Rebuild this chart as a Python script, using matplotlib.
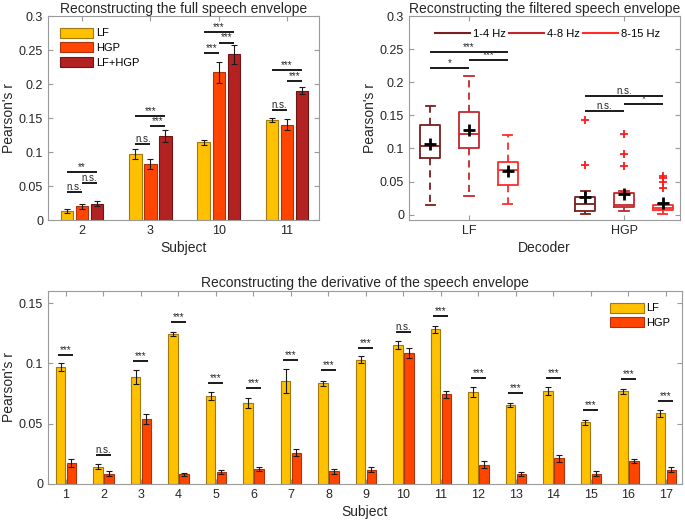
import matplotlib
matplotlib.use('Agg')
import matplotlib.pyplot as plt
import numpy as np
from matplotlib.lines import Line2D
from matplotlib.ticker import FuncFormatter

plt.rcParams['font.family'] = ['Liberation Sans', 'DejaVu Sans']

# ---------------- Panel A: full speech envelope ----------------
full_subjects = ['2', '3', '10', '11']
full_series = ['LF', 'HGP', 'LF+HGP']
full_lf = [0.013, 0.097, 0.114, 0.147]
full_lf_err = [0.003, 0.008, 0.004, 0.003]
full_hgp = [0.020, 0.082, 0.217, 0.140]
full_hgp_err = [0.004, 0.007, 0.015, 0.008]
full_comb = [0.024, 0.123, 0.244, 0.190]
full_comb_err = [0.004, 0.009, 0.014, 0.005]
# (subject index, series i, series j, height, label)
full_sig = [(0, 0, 1, 0.041, 'n.s.'), (0, 1, 2, 0.055, 'n.s.'), (0, 0, 2, 0.070, '**'),
            (1, 0, 1, 0.112, 'n.s.'), (1, 1, 2, 0.138, '***'), (1, 0, 2, 0.153, '***'),
            (2, 0, 1, 0.246, '***'), (2, 1, 2, 0.261, '***'), (2, 0, 2, 0.276, '***'),
            (3, 0, 1, 0.162, 'n.s.'), (3, 1, 2, 0.205, '***'), (3, 0, 2, 0.220, '***')]

# ---------------- Panel B: filtered speech envelope (box plots) ----------------
decoders = ['LF', 'HGP']
bands = ['1-4 Hz', '4-8 Hz', '8-15 Hz']
lf_whislo = [0.015, 0.028, 0.016]
lf_q1 = [0.086, 0.100, 0.045]
lf_med = [0.104, 0.122, 0.067]
lf_q3 = [0.135, 0.155, 0.080]
lf_whishi = [0.164, 0.210, 0.120]
lf_mean = [0.107, 0.128, 0.066]
lf_fliers = [[], [], []]
hgp_whislo = [0.001, 0.005, 0.001]
hgp_q1 = [0.005, 0.011, 0.007]
hgp_med = [0.016, 0.014, 0.010]
hgp_q3 = [0.027, 0.033, 0.015]
hgp_whishi = [0.036, 0.036, 0.016]
hgp_mean = [0.026, 0.032, 0.017]
hgp_fliers = [[0.075, 0.143], [0.074, 0.091, 0.122], [0.041, 0.050, 0.055, 0.059]]
# (decoder index, band i, band j, height, label)
filt_sig = [(0, 0, 1, 0.222, '*'), (0, 1, 2, 0.233, '***'), (0, 0, 2, 0.245, '***'),
            (1, 0, 1, 0.156, 'n.s.'), (1, 1, 2, 0.167, '*'), (1, 0, 2, 0.179, 'n.s.')]

# ---------------- Panel C: derivative of the speech envelope ----------------
deriv_subjects = [str(i) for i in range(1, 18)]
deriv_lf = [0.097, 0.0144, 0.0887, 0.1243, 0.0729, 0.0671, 0.0856, 0.0834, 0.103,
            0.1152, 0.1282, 0.0765, 0.0655, 0.0771, 0.0511, 0.0768, 0.0586]
deriv_lf_err = [0.003, 0.002, 0.006, 0.002, 0.003, 0.004, 0.010, 0.002, 0.003,
                0.003, 0.003, 0.004, 0.002, 0.003, 0.002, 0.002, 0.003]
deriv_hgp = [0.0174, 0.0086, 0.0539, 0.008, 0.0099, 0.0124, 0.026, 0.0105, 0.0119,
             0.1088, 0.0743, 0.016, 0.0083, 0.0213, 0.0086, 0.0191, 0.0119]
deriv_hgp_err = [0.003, 0.002, 0.004, 0.0015, 0.002, 0.002, 0.003, 0.002, 0.002,
                 0.004, 0.003, 0.003, 0.002, 0.003, 0.002, 0.002, 0.002]
deriv_sig_y = [0.107, 0.0238, 0.102, 0.134, 0.0837, 0.0793, 0.103, 0.0942, 0.1124,
               0.126, 0.139, 0.0876, 0.0754, 0.0876, 0.0613, 0.087, 0.069]
deriv_sig_label = ['***', 'n.s.', '***', '***', '***', '***', '***', '***', '***',
                   'n.s.', '***', '***', '***', '***', '***', '***', '***']

# ---------------- styling ----------------
C_LF = '#FFC000'
C_HGP = '#FF4500'
C_COMB = '#B22222'
E_LF = '#A07A10'
E_HGP = '#A83510'
E_COMB = '#701515'
BAND_COLORS = ['#7A1E1E', '#C4262C', '#FF2A2A']
SPINE = '#9a9a9a'
TXT = '#262626'

fmt = FuncFormatter(lambda v, p: '%g' % round(v, 4))


def style(ax):
    for s in ax.spines.values():
        s.set_color(SPINE)
        s.set_linewidth(0.8)
    ax.tick_params(direction='in', top=True, right=True, length=3.5, width=0.8,
                   color=SPINE, labelsize=9, labelcolor=TXT, pad=3.5)
    ax.yaxis.set_major_formatter(fmt)


def sig(ax, x0, x1, y, label):
    ax.plot([x0, x1], [y, y], color='#1a1a1a', lw=1.4, solid_capstyle='butt')
    ax.text((x0 + x1) / 2, y, label, ha='center', va='bottom', fontsize=7, color=TXT)


fig = plt.figure(figsize=(6.85, 5.25), dpi=100)
W, H = 685.0, 525.0


def axes_px(l, t, r, b):
    return fig.add_axes([l / W, 1 - b / H, (r - l) / W, (b - t) / H])


ekw = dict(ecolor='#1a1a1a', elinewidth=0.8, capsize=2.5, capthick=0.8)
leg_kw = dict(frameon=False, fontsize=8, handlelength=3.0, handleheight=1.0,
              labelspacing=0.35, handletextpad=0.25, borderaxespad=0.64)

# Panel A
axA = axes_px(48, 16, 319, 220)
xa = np.arange(1, len(full_subjects) + 1)
wA, oA = 0.18, 0.22
series_vals = [full_lf, full_hgp, full_comb]
series_err = [full_lf_err, full_hgp_err, full_comb_err]
series_col = [C_LF, C_HGP, C_COMB]
series_edge = [E_LF, E_HGP, E_COMB]
handlesA = []
for k in range(3):
    b = axA.bar(xa + (k - 1) * oA, series_vals[k], wA, yerr=series_err[k],
                color=series_col[k], edgecolor=series_edge[k], linewidth=0.8,
                error_kw=ekw, label=full_series[k], zorder=2)
    handlesA.append(b)
for g, i, j, y, lab in full_sig:
    sig(axA, xa[g] + (i - 1) * oA, xa[g] + (j - 1) * oA, y, lab)
axA.set_xlim(0.5, 4.47)
axA.set_ylim(0, 0.3)
axA.set_yticks(np.arange(0, 0.301, 0.05))
axA.set_xticks(xa)
axA.set_xticklabels(full_subjects)
style(axA)
axA.set_xlabel('Subject', fontsize=10, color=TXT, labelpad=3)
axA.set_ylabel("Pearson's r", fontsize=10, color=TXT, labelpad=2)
axA.set_title('Reconstructing the full speech envelope', fontsize=10, color=TXT, pad=2)
axA.legend(handles=handlesA, loc='upper left', **leg_kw)

# Panel B
axB = axes_px(409, 16, 680, 220)
xb = np.arange(1, len(decoders) + 1)
oB = 0.25
for d, (wlo, q1, med, q3, whi, mn, fl) in enumerate([
        (lf_whislo, lf_q1, lf_med, lf_q3, lf_whishi, lf_mean, lf_fliers),
        (hgp_whislo, hgp_q1, hgp_med, hgp_q3, hgp_whishi, hgp_mean, hgp_fliers)]):
    for k in range(3):
        st = [dict(whislo=wlo[k], q1=q1[k], med=med[k], q3=q3[k], whishi=whi[k],
                   mean=mn[k], fliers=fl[k])]
        c = BAND_COLORS[k]
        axB.bxp(st, positions=[xb[d] + (k - 1) * oB], widths=0.13, capwidths=0.06,
                showmeans=True, manage_ticks=False,
                boxprops=dict(color=c, lw=1.3),
                medianprops=dict(color=c, lw=1.3),
                whiskerprops=dict(color=c, lw=1.3, linestyle=(0, (4, 2.8))),
                capprops=dict(color=c, lw=1.3),
                flierprops=dict(marker='+', markeredgecolor='#FF1A1A', markersize=6,
                                markeredgewidth=1.3, linestyle='none'),
                meanprops=dict(marker='+', markeredgecolor='black', markersize=8,
                               markeredgewidth=2.0, linestyle='none'))
for g, i, j, y, lab in filt_sig:
    sig(axB, xb[g] + (i - 1) * oB, xb[g] + (j - 1) * oB, y, lab)
axB.set_xlim(0.613, 2.361)
axB.set_ylim(-0.008, 0.3)
axB.set_yticks(np.arange(0, 0.301, 0.05))
axB.set_xticks(xb)
axB.set_xticklabels(decoders)
style(axB)
axB.set_xlabel('Decoder', fontsize=10, color=TXT, labelpad=3)
axB.set_ylabel("Pearson's r", fontsize=10, color=TXT, labelpad=2)
axB.set_title('Reconstructing the filtered speech envelope', fontsize=10, color=TXT, pad=2)
hB = [Line2D([], [], color=BAND_COLORS[k], lw=1.5) for k in range(3)]
axB.legend(hB, bands, loc='upper center', ncol=3, frameon=False, fontsize=8,
           handlelength=3.2, handletextpad=0.2, columnspacing=0.3,
           borderaxespad=0.8, bbox_to_anchor=(0.51, 1.0))

# Panel C
axC = axes_px(48, 291, 682, 484)
xc = np.arange(1, len(deriv_subjects) + 1)
wC, oC = 0.25, 0.145
b1 = axC.bar(xc - oC, deriv_lf, wC, yerr=deriv_lf_err, color=C_LF, edgecolor=E_LF,
             linewidth=0.8, error_kw=ekw, label='LF', zorder=2)
b2 = axC.bar(xc + oC, deriv_hgp, wC, yerr=deriv_hgp_err, color=C_HGP, edgecolor=E_HGP,
             linewidth=0.8, error_kw=ekw, label='HGP', zorder=2)
for k in range(len(xc)):
    sig(axC, xc[k] - 0.2, xc[k] + 0.2, deriv_sig_y[k], deriv_sig_label[k])
axC.set_xlim(0.52, 17.43)
axC.set_ylim(0, 0.16)
axC.set_yticks([0, 0.05, 0.1, 0.15])
axC.set_xticks(xc)
axC.set_xticklabels(deriv_subjects)
style(axC)
axC.set_xlabel('Subject', fontsize=10, color=TXT, labelpad=3)
axC.set_ylabel("Pearson's r", fontsize=10, color=TXT, labelpad=2)
axC.set_title('Reconstructing the derivative of the speech envelope', fontsize=10,
              color=TXT, pad=3)
axC.legend(handles=[b1, b2], loc='upper right', **leg_kw)

fig.savefig('out.png', dpi=100)
